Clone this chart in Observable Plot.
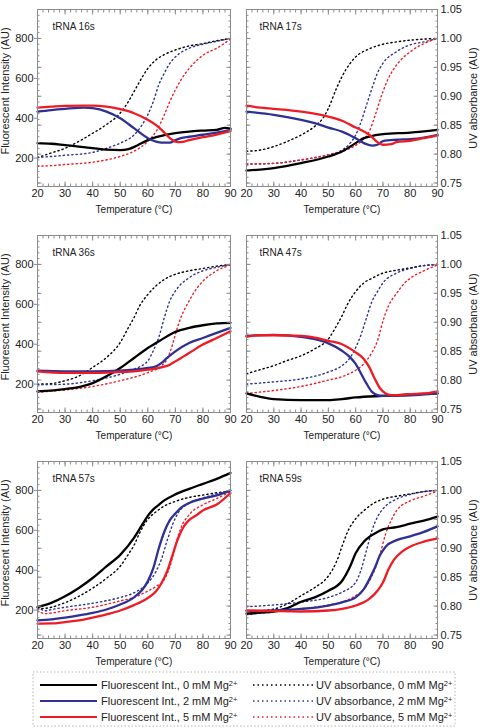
<!DOCTYPE html>
<html><head><meta charset="utf-8">
<script src="https://cdn.jsdelivr.net/npm/d3@7"></script>
<script src="https://cdn.jsdelivr.net/npm/@observablehq/plot@0.6"></script>
<style>
body{margin:0;background:#fff;font-family:"Liberation Sans",Arial,sans-serif;}
#root{position:relative;width:480px;height:728px;overflow:hidden;background:#fff;}
.panel{position:absolute;}
</style></head><body><div id="root"></div>
<script>
// ---- data: [temperature °C, value]; fl = fluorescent intensity (AU), uv = UV absorbance (AU)
const s16_f0 = [[20,275],[25,272],[30,265],[35,258],[40,250],[45,242],[50,240],[53,245],[56,262],[60,290],[63,305],[66,315],[70,325],[75,333],[80,338],[85,342],[88,352],[90,348]];
const s16_f2 = [[20,433],[25,441],[30,447],[37,453],[40,450],[45,433],[50,400],[55,350],[60,300],[63,283],[65,278],[68,278],[70,290],[72,300],[75,307],[80,317],[85,328],[90,342]];
const s16_f5 = [[20,453],[25,458],[30,462],[40,463],[45,458],[50,445],[55,425],[60,392],[63,365],[65,342],[68,300],[70,283],[72,280],[75,290],[80,305],[85,318],[90,335]];
const s16_u0 = [[20,.794],[25,.802],[30,.810],[35,.822],[40,.836],[45,.851],[50,.871],[53,.891],[55,.908],[57,.925],[60,.948],[63,.963],[66,.972],[70,.980],[75,.987],[80,.991],[85,.996],[90,1.0]];
const s16_u2 = [[20,.794],[30,.798],[40,.803],[45,.810],[50,.819],[55,.833],[58,.851],[60,.868],[62,.891],[64,.920],[66,.940],[68,.957],[70,.968],[75,.983],[80,.990],[85,.995],[90,1.0]];
const s16_u5 = [[20,.779],[25,.780],[30,.782],[40,.786],[50,.796],[55,.805],[60,.822],[63,.839],[66,.868],[68,.891],[70,.911],[72,.928],[75,.948],[78,.963],[80,.971],[85,.983],[90,.999]];

const s17_f0 = [[20,137],[30,150],[40,175],[50,208],[55,233],[60,275],[63,300],[65,308],[70,320],[80,328],[90,342]];
const s17_f2 = [[20,433],[30,417],[40,392],[45,375],[50,353],[55,333],[60,300],[63,275],[66,263],[68,267],[70,285],[75,292],[80,295],[85,303],[90,317]];
const s17_f5 = [[20,463],[25,453],[30,447],[40,433],[50,408],[55,387],[60,353],[65,317],[68,280],[70,267],[73,270],[75,280],[80,287],[85,300],[90,313]];
const s17_u0 = [[20,.805],[25,.807],[30,.813],[35,.822],[40,.833],[45,.848],[48,.862],[50,.879],[53,.914],[55,.934],[58,.957],[60,.968],[65,.982],[70,.990],[75,.994],[80,.997],[90,1.0]];
const s17_u2 = [[20,.783],[25,.783],[30,.784],[40,.790],[50,.799],[55,.807],[58,.819],[60,.833],[62,.856],[64,.885],[66,.914],[68,.940],[70,.957],[75,.977],[80,.989],[85,.994],[90,1.0]];
const s17_u5 = [[20,.783],[30,.784],[40,.790],[50,.799],[58,.810],[62,.822],[65,.839],[67,.865],[70,.908],[72,.931],[75,.954],[80,.977],[85,.991],[90,1.0]];

const s36_f0 = [[20,163],[30,175],[35,185],[40,205],[45,239],[50,281],[55,331],[60,381],[65,423],[70,462],[75,482],[80,495],[85,504],[90,507]];
const s36_f2 = [[20,267],[30,264],[40,264],[50,267],[55,272],[60,281],[63,289],[65,306],[67,331],[70,364],[75,406],[80,431],[85,457],[90,482]];
const s36_f5 = [[20,264],[30,256],[40,256],[50,261],[55,264],[60,272],[65,284],[68,297],[70,314],[73,339],[75,356],[80,398],[85,431],[90,465]];
const s36_u0 = [[20,.793],[25,.794],[30,.799],[35,.807],[40,.822],[45,.839],[50,.865],[53,.891],[55,.908],[57,.928],[60,.948],[63,.963],[66,.974],[70,.983],[75,.989],[80,.993],[85,.997],[90,1.0]];
const s36_u2 = [[20,.792],[30,.793],[40,.799],[50,.810],[55,.819],[60,.833],[62,.851],[64,.874],[66,.908],[68,.937],[70,.954],[75,.977],[80,.989],[85,.995],[90,1.0]];
const s36_u5 = [[20,.779],[30,.783],[40,.789],[50,.799],[60,.813],[65,.825],[67,.836],[69,.862],[70,.879],[72,.908],[75,.937],[78,.960],[80,.971],[85,.989],[90,.999]];

const s47_f0 = [[20,153],[25,136],[30,125],[40,120],[50,120],[55,125],[60,133],[70,141],[80,148],[90,153]];
const s47_f2 = [[20,442],[30,447],[40,437],[45,425],[50,404],[55,367],[58,334],[60,301],[62,252],[64,202],[66,161],[68,145],[70,141],[75,141],[80,143],[90,153]];
const s47_f5 = [[20,437],[25,445],[30,445],[40,442],[45,433],[50,417],[55,400],[60,359],[63,326],[65,285],[67,227],[69,178],[71,153],[73,145],[75,145],[80,150],[85,153],[90,164]];
const s47_u0 = [[20,.811],[25,.818],[30,.825],[35,.834],[40,.842],[45,.854],[50,.871],[53,.894],[55,.911],[57,.931],[60,.953],[63,.968],[66,.976],[70,.985],[75,.990],[80,.994],[85,.998],[90,1.0]];
const s47_u2 = [[20,.793],[30,.797],[40,.802],[50,.814],[55,.825],[58,.839],[60,.856],[62,.879],[64,.908],[66,.936],[68,.953],[70,.968],[75,.985],[80,.993],[85,.998],[90,1.0]];
const s47_u5 = [[20,.777],[30,.782],[40,.789],[50,.800],[55,.806],[60,.817],[63,.828],[66,.848],[68,.868],[70,.902],[72,.928],[75,.950],[78,.968],[80,.976],[85,.989],[90,.999]];

const s57_f0 = [[20,215],[25,236],[30,269],[35,311],[40,361],[45,419],[50,477],[55,562],[58,628],[60,672],[62,705],[64,728],[66,750],[70,780],[75,808],[80,833],[85,858],[90,888]];
const s57_f2 = [[20,148],[25,153],[30,162],[35,173],[40,186],[45,203],[50,228],[55,264],[58,302],[60,344],[62,410],[64,510],[66,593],[68,651],[70,684],[72,712],[75,737],[80,759],[85,775],[90,800]];
const s57_f5 = [[20,132],[25,133],[30,140],[35,148],[40,162],[45,178],[50,198],[55,225],[60,261],[63,294],[65,336],[67,394],[69,477],[71,560],[73,618],[75,651],[78,679],[80,700],[85,729],[90,787]];
const s57_u0 = [[20,.795],[25,.798],[30,.806],[35,.817],[40,.831],[45,.848],[50,.869],[53,.890],[55,.905],[57,.926],[60,.950],[63,.963],[66,.973],[70,.981],[75,.988],[80,.992],[85,.996],[90,.998]];
const s57_u2 = [[20,.798],[23,.792],[25,.794],[30,.798],[40,.805],[50,.815],[55,.823],[60,.840],[63,.860],[65,.882],[67,.913],[69,.941],[71,.961],[75,.978],[80,.987],[85,.994],[90,1.0]];
const s57_u5 = [[20,.792],[23,.787],[25,.788],[30,.792],[40,.798],[50,.809],[55,.815],[60,.826],[63,.834],[66,.846],[68,.868],[70,.904],[72,.935],[75,.958],[80,.975],[85,.986],[90,.998]];

const s59_f0 = [[20,182],[25,187],[30,193],[35,210],[40,242],[45,264],[50,297],[55,346],[58,420],[60,485],[63,543],[65,567],[68,592],[70,605],[75,616],[80,633],[85,649],[90,669]];
const s59_f2 = [[20,195],[30,198],[40,206],[50,223],[55,239],[60,264],[63,305],[65,354],[67,411],[69,477],[71,518],[75,551],[80,570],[85,592],[90,620]];
const s59_f5 = [[20,198],[30,195],[40,193],[50,198],[55,206],[60,223],[65,256],[68,297],[70,338],[72,403],[74,452],[77,493],[80,518],[85,543],[90,559]];
const s59_u0 = [[20,.790],[30,.795],[35,.804],[40,.818],[45,.832],[50,.852],[53,.877],[55,.903],[57,.928],[60,.951],[63,.965],[66,.976],[70,.985],[75,.990],[80,.994],[85,.998],[90,1.0]];
const s59_u2 = [[20,.799],[30,.802],[40,.807],[50,.815],[55,.824],[60,.841],[62,.863],[64,.897],[66,.931],[68,.954],[70,.968],[75,.985],[80,.993],[85,.998],[90,1.0]];
const s59_u5 = [[20,.785],[30,.790],[40,.795],[50,.802],[55,.807],[60,.818],[63,.829],[65,.843],[67,.863],[69,.891],[71,.925],[73,.948],[75,.965],[80,.982],[85,.990],[90,.999]];

const panelNames = ["tRNA 16s","tRNA 17s","tRNA 36s","tRNA 47s","tRNA 57s","tRNA 59s"];
const mgLevels = ["0","2","5"];
const seriesColors = ["#000000","#2e3192","#ed1c24"];
const xTicks = [20,30,40,50,60,70,80,90];
const flTicks = [200,400,600,800];
const uvTicks = [0.75,0.80,0.85,0.90,0.95,1.00,1.05];

// ---- layout
const flToUv = f => 1 + (f - 800) / 2900;
const uvToFl = u => 800 + (u - 1) * 2900;
const panels = [
  {name: panelNames[0], fl: [s16_f0,s16_f2,s16_f5], uv: [s16_u0,s16_u2,s16_u5]},
  {name: panelNames[1], fl: [s17_f0,s17_f2,s17_f5], uv: [s17_u0,s17_u2,s17_u5]},
  {name: panelNames[2], fl: [s36_f0,s36_f2,s36_f5], uv: [s36_u0,s36_u2,s36_u5]},
  {name: panelNames[3], fl: [s47_f0,s47_f2,s47_f5], uv: [s47_u0,s47_u2,s47_u5]},
  {name: panelNames[4], fl: [s57_f0,s57_f2,s57_f5], uv: [s57_u0,s57_u2,s57_u5]},
  {name: panelNames[5], fl: [s59_f0,s59_f2,s59_f5], uv: [s59_u0,s59_u2,s59_u5]}
];
const minorX = d3.range(20, 91, 2);
const minorY = d3.range(75, 106).map(k => k / 100);
const majorY = d3.range(75, 106, 5).map(k => k / 100);
const frameGray = "#8c8c8c";
const root = document.getElementById("root");

panels.forEach((p, i) => {
  const col = i % 2, row = Math.floor(i / 2);
  const left = col === 0;
  const H = row === 2 ? 220 : 226;
  const marks = [];
  p.uv.forEach((s, k) => marks.push(Plot.line(s, {x: d => d[0], y: d => d[1], stroke: seriesColors[k], strokeWidth: 1.4, strokeDasharray: "1.3,3", curve: "monotone-x"})));
  p.fl.forEach((s, k) => marks.push(Plot.line(s, {x: d => d[0], y: d => flToUv(d[1]), stroke: seriesColors[k], strokeWidth: 2.3, curve: "monotone-x"})));
  marks.push(Plot.frame({stroke: frameGray}));
  for (const a of ["bottom","top"]) {
    marks.push(Plot.axisX(minorX, {anchor: a, tickSize: -2.5, tickFormat: () => "", stroke: frameGray, label: null}));
    marks.push(Plot.axisX(xTicks, {anchor: a, tickSize: -4.5, tickFormat: () => "", stroke: frameGray, label: null}));
  }
  for (const a of ["left","right"]) {
    marks.push(Plot.axisY(minorY, {anchor: a, tickSize: -2.5, tickFormat: () => "", stroke: frameGray, label: null}));
    marks.push(Plot.axisY(majorY, {anchor: a, tickSize: -4.5, tickFormat: () => "", stroke: frameGray, label: null}));
  }
  marks.push(Plot.axisX(xTicks, {anchor: "bottom", tickSize: 0, tickPadding: 3, label: null, fontSize: 11}));
  if (left) {
    marks.push(Plot.axisY(flTicks.map(flToUv), {anchor: "left", tickSize: 3, tickPadding: 1, stroke: frameGray, tickFormat: v => String(Math.round(uvToFl(v))), label: null, fontSize: 11}));
    marks.push(Plot.text(["Fluorescent Intensity (AU)"], {text: d => d, frameAnchor: "left", rotate: -90, dx: -32, dy: -7, textAnchor: "middle", lineAnchor: "middle", fontSize: 11}));
  } else {
    marks.push(Plot.axisY(uvTicks, {anchor: "right", tickSize: 0, tickPadding: 3, tickFormat: d3.format(".2f"), label: null, fontSize: 11}));
    marks.push(Plot.text(["UV absorbance (AU)"], {text: d => d, frameAnchor: "right", rotate: -90, dx: 36, textAnchor: "middle", lineAnchor: "middle", fontSize: 11}));
  }
  marks.push(Plot.text([p.name], {text: d => d, frameAnchor: "top-left", dx: left ? 15 : 13, dy: 17, textAnchor: "start", lineAnchor: "middle", fontSize: 10}));
  marks.push(Plot.text(["Temperature (°C)"], {text: d => d, frameAnchor: "bottom", dy: 23, textAnchor: "middle", lineAnchor: "middle", fontSize: 10}));

  const svg = Plot.plot({
    width: 240, height: H,
    marginLeft: left ? 37 : 6, marginRight: left ? 10 : 43,
    marginTop: 9, marginBottom: H - 9 - 177,
    x: {domain: [20, 90]},
    y: {domain: [0.744, 1.05]},
    style: {background: "transparent", fontFamily: "'Liberation Sans', Arial, sans-serif", fontSize: "11px", color: "#222"},
    marks
  });
  svg.classList.add("panel");
  svg.style.left = (col * 240) + "px";
  svg.style.top = (row * 226) + "px";
  svg.style.position = "absolute";
  root.appendChild(svg);
});

// ---- legend
const legend = d3.select(root).append("svg")
  .attr("width", 424).attr("height", 56)
  .style("position", "absolute").style("left", "32px").style("top", "671px")
  .style("font-family", "'Liberation Sans', Arial, sans-serif");
legend.append("rect").attr("x", 1).attr("y", 1).attr("width", 422).attr("height", 54)
  .attr("fill", "none").attr("stroke", "#b5b5b5").attr("stroke-dasharray", "1.5,2");
mgLevels.forEach((m, k) => {
  const y = 14 + k * 16;
  legend.append("line").attr("x1", 8).attr("x2", 65).attr("y1", y).attr("y2", y)
    .attr("stroke", seriesColors[k]).attr("stroke-width", 2);
  const t1 = legend.append("text").attr("x", 69).attr("y", y).attr("dy", "0.35em").attr("font-size", 11).attr("fill", "#222");
  t1.append("tspan").text(`Fluorescent Int., ${m} mM Mg`);
  t1.append("tspan").attr("dy", "-0.4em").attr("font-size", 7.5).text("2+");
  legend.append("line").attr("x1", 221).attr("x2", 281).attr("y1", y).attr("y2", y)
    .attr("stroke", seriesColors[k]).attr("stroke-width", 1.5).attr("stroke-dasharray", "1.5,3");
  const t2 = legend.append("text").attr("x", 284).attr("y", y).attr("dy", "0.35em").attr("font-size", 11).attr("fill", "#222");
  t2.append("tspan").text(`UV absorbance, ${m} mM Mg`);
  t2.append("tspan").attr("dy", "-0.4em").attr("font-size", 7.5).text("2+");
});
</script></body></html>
